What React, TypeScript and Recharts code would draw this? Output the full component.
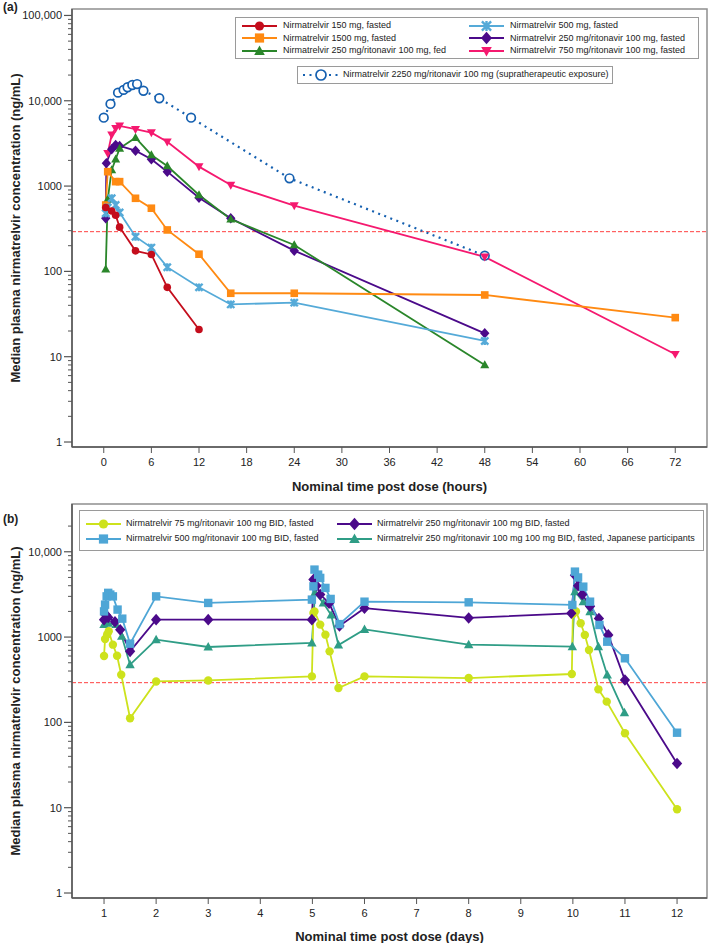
import React from "react";
import { LineChart, Line, XAxis, YAxis, ReferenceLine, ReferenceArea } from "recharts";

// ---------- panel (a): single dose, time in hours, conc in ng/mL ----------
const hA150 = [0.25, 1, 1.5, 2, 4, 6, 8, 12];
const cA150 = [560, 510, 455, 330, 174, 158, 65, 20.8];

const hA500 = [0.25, 0.5, 1, 1.5, 2, 4, 6, 8, 12, 16, 24, 48];
const cA500 = [480, 560, 720, 600, 490, 255, 190, 112, 65, 41, 43, 15.3];

const hA1500 = [0.25, 0.5, 1.5, 2, 4, 6, 8, 12, 16, 24, 48, 72];
const cA1500 = [600, 1475, 1127, 1127, 719, 550, 306, 159, 55.4, 55.4, 52.9, 28.7];

const hA250rFasted = [0.25, 0.33, 1, 1.5, 2, 4, 6, 8, 12, 16, 24, 48];
const cA250rFasted = [419, 1850, 2700, 3030, 2950, 2600, 2060, 1475, 731, 419, 175, 18.8];

const hA250rFed = [0.25, 0.5, 1, 1.5, 2, 4, 6, 8, 12, 16, 24, 48];
const cA250rFed = [106, 700, 1545, 2060, 2770, 3690, 2315, 1720, 787, 408, 204, 8.0];

const hA750r = [0.5, 1, 1.5, 2, 4, 6, 8, 12, 16, 24, 48, 72];
const cA750r = [2420, 4000, 4750, 5070, 4640, 4230, 3310, 1690, 1030, 589, 148, 10.7];

const hA2250r = [0, 0.85, 1.8, 2.5, 3, 3.6, 4.2, 5, 7, 11, 23.4, 48];
const cA2250r = [6330, 9170, 12440, 13400, 14400, 15300, 15700, 13100, 10700, 6330, 1234, 153];

const xTicksA = [0, 6, 12, 18, 24, 30, 36, 42, 48, 54, 60, 66, 72];
const yMajorA = [1, 10, 100, 1000, 10000, 100000];
const yLabelsA = ["1", "10", "100", "1000", "10,000", "100,000"];

// ---------- panel (b): multiple dose, time in days ----------
const d75 = [1.0, 1.02, 1.06, 1.09, 1.17, 1.25, 1.33, 1.5, 2, 3, 4.99, 5.02, 5.04, 5.15, 5.25, 5.33, 5.5, 6, 8, 9.98, 10.0, 10.06, 10.15, 10.23, 10.31, 10.49, 10.65, 11, 12];
const c75 = [600, 950, 1070, 1170, 815, 605, 362, 112, 302, 310, 346, 1920, 2000, 1400, 1067, 680, 253, 346, 331, 369, 1866, 2000, 1450, 1060, 706, 244, 175, 74.5, 9.6];

const d500 = [1.0, 1.02, 1.05, 1.08, 1.12, 1.17, 1.26, 1.35, 1.5, 2, 3, 4.99, 5.02, 5.04, 5.11, 5.15, 5.25, 5.35, 5.52, 6, 8, 9.99, 10.04, 10.1, 10.2, 10.33, 10.51, 10.66, 11, 12];
const c500 = [2000, 2400, 3000, 3300, 3150, 3000, 2100, 1645, 837, 3000, 2512, 2750, 3935, 6180, 5400, 4940, 3770, 2800, 1420, 2600, 2555, 2380, 5850, 5000, 3900, 2600, 1387, 883, 564, 75.7];

const d250 = [1.0, 1.04, 1.08, 1.21, 1.31, 1.5, 2, 3, 4.99, 5.02, 5.08, 5.15, 5.32, 5.52, 6, 8, 9.97, 10.04, 10.1, 10.18, 10.33, 10.5, 10.68, 11, 12];
const c250 = [1600, 1800, 1700, 1510, 1220, 680, 1600, 1600, 1600, 4720, 4000, 3150, 2500, 1350, 2180, 1675, 1900, 5300, 4000, 3150, 2300, 1650, 1060, 314, 33];

const d250jp = [1.0, 1.04, 1.08, 1.23, 1.34, 1.5, 2, 3, 4.99, 5.05, 5.21, 5.36, 5.5, 6, 8, 9.99, 10.04, 10.2, 10.33, 10.49, 10.66, 10.99];
const c250jp = [1400, 1500, 1450, 1400, 1020, 475, 933, 765, 853, 3300, 2500, 1810, 807, 1230, 815, 772, 3400, 2600, 1985, 772, 360, 130];

const xTicksB = [1, 2, 3, 4, 5, 6, 7, 8, 9, 10, 11, 12];
const yMajorB = [1, 10, 100, 1000, 10000];
const yLabelsB = ["1", "10", "100", "1000", "10,000"];

const target = 292; // red dashed reference concentration

const AXIS = "#555";
const FRAME = "#8f8f8f";
const FONT = '"Liberation Sans", Arial, sans-serif';

type Shape = "circle" | "open" | "square" | "triUp" | "triDown" | "diamond" | "cross";

const pts = (t: number[], v: number[]) => t.map((x, i) => ({ t: x, v: v[i] }));

const minorTicks = (majors: number[], top: number) => {
  const out: number[] = [];
  majors.forEach((d) => {
    for (let k = 1; k <= 9; k++) if (d * k <= top) out.push(d * k);
  });
  return out;
};

function Marker({ shape, cx, cy, color, s }: { shape: Shape; cx: number; cy: number; color: string; s: number }) {
  switch (shape) {
    case "circle":
      return <circle cx={cx} cy={cy} r={s} fill={color} />;
    case "open":
      return <circle cx={cx} cy={cy} r={s} fill="#fff" stroke={color} strokeWidth={1.7} />;
    case "square":
      return <rect x={cx - s} y={cy - s} width={2 * s} height={2 * s} fill={color} />;
    case "triUp":
      return <polygon points={`${cx},${cy - s * 1.2} ${cx + s * 1.15},${cy + s * 0.85} ${cx - s * 1.15},${cy + s * 0.85}`} fill={color} />;
    case "triDown":
      return <polygon points={`${cx},${cy + s * 1.2} ${cx + s * 1.15},${cy - s * 0.85} ${cx - s * 1.15},${cy - s * 0.85}`} fill={color} />;
    case "diamond":
      return <polygon points={`${cx},${cy - s * 1.35} ${cx + s * 1.2},${cy} ${cx},${cy + s * 1.35} ${cx - s * 1.2},${cy}`} fill={color} />;
    case "cross":
      return (
        <path
          d={`M${cx - s},${cy - s}L${cx + s},${cy + s}M${cx + s},${cy - s}L${cx - s},${cy + s}M${cx},${cy - s * 1.1}L${cx},${cy + s * 1.1}`}
          stroke={color}
          strokeWidth={2.4}
          fill="none"
        />
      );
  }
  return null;
}

const dotOf = (shape: Shape, color: string, s: number) => (p: any) =>
  p.cx == null || p.cy == null ? (
    <g key={`e${p.index}`} />
  ) : (
    <Marker key={`d${p.index}`} shape={shape} cx={p.cx} cy={p.cy} color={color} s={s} />
  );

type Series = { name: string; t: number[]; v: number[]; color: string; shape: Shape; s: number; dash?: string };

const seriesA: Series[] = [
  { name: "Nirmatrelvir 2250 mg/ritonavir 100 mg (supratherapeutic exposure)", t: hA2250r, v: cA2250r, color: "#1560b0", shape: "open", s: 4.3, dash: "2 4.5" },
  { name: "Nirmatrelvir 750 mg/ritonavir 100 mg, fasted", t: hA750r, v: cA750r, color: "#f5196f", shape: "triDown", s: 3.9 },
  { name: "Nirmatrelvir 250 mg/ritonavir 100 mg, fasted", t: hA250rFasted, v: cA250rFasted, color: "#4b0a8a", shape: "diamond", s: 3.9 },
  { name: "Nirmatrelvir 250 mg/ritonavir 100 mg, fed", t: hA250rFed, v: cA250rFed, color: "#2a862a", shape: "triUp", s: 3.9 },
  { name: "Nirmatrelvir 1500 mg, fasted", t: hA1500, v: cA1500, color: "#ff8a12", shape: "square", s: 3.8 },
  { name: "Nirmatrelvir 500 mg, fasted", t: hA500, v: cA500, color: "#55aad8", shape: "cross", s: 3.6 },
  { name: "Nirmatrelvir 150 mg, fasted", t: hA150, v: cA150, color: "#c40d1c", shape: "circle", s: 3.8 },
];

const seriesB: Series[] = [
  { name: "Nirmatrelvir 250 mg/ritonavir 100 mg 100 mg BID, fasted, Japanese participants", t: d250jp, v: c250jp, color: "#2f9d86", shape: "triUp", s: 4.1 },
  { name: "Nirmatrelvir 75 mg/ritonavir 100 mg BID, fasted", t: d75, v: c75, color: "#cde21c", shape: "circle", s: 4.2 },
  { name: "Nirmatrelvir 250 mg/ritonavir 100 mg BID, fasted", t: d250, v: c250, color: "#4b0a8a", shape: "diamond", s: 4.3 },
  { name: "Nirmatrelvir 500 mg/ritonavir 100 mg BID, fasted", t: d500, v: c500, color: "#4ea6d6", shape: "square", s: 4.2 },
];

const makeYTick = (majors: number[], labels: string[]) => (p: any) => {
  const { x, y, payload } = p;
  const idx = majors.findIndex((m) => Math.abs(m - payload.value) < m * 1e-6);
  if (idx < 0) return <line key={`m${payload.value}`} x1={x - 4} x2={x} y1={y} y2={y} stroke={AXIS} strokeWidth={1} />;
  return (
    <g key={`M${payload.value}`}>
      <line x1={x - 8} x2={x} y1={y} y2={y} stroke={AXIS} strokeWidth={1.2} />
      <text x={x - 10} y={y} dy="0.35em" textAnchor="end" fontSize={11} fill="#222" fontFamily={FONT}>
        {labels[idx]}
      </text>
    </g>
  );
};

function LegendItem({ s, x, y, iconW, textX, fontSize }: { s: Series; x: number; y: number; iconW: number; textX: number; fontSize: number }) {
  return (
    <>
      <svg style={{ position: "absolute", left: x, top: y - 7 }} width={iconW} height={14}>
        <line x1={0} x2={iconW} y1={7} y2={7} stroke={s.color} strokeWidth={s.dash ? 2.2 : 2} strokeDasharray={s.dash} />
        <Marker shape={s.shape} cx={iconW / 2} cy={7} color={s.color} s={s.shape === "open" ? 5 : 4.6} />
      </svg>
      <span
        style={{
          position: "absolute",
          left: textX,
          top: y - fontSize * 0.62,
          fontSize,
          lineHeight: `${fontSize * 1.2}px`,
          whiteSpace: "nowrap",
          color: "#222",
          fontFamily: FONT,
        }}
      >
        {s.name}
      </span>
    </>
  );
}

const box = (left: number, top: number, width: number, height: number): React.CSSProperties => ({
  position: "absolute",
  left,
  top,
  width,
  height,
  border: "1.5px solid #9a9a9a",
  boxSizing: "border-box",
  background: "#fff",
});

const yTitle = "Median plasma nirmatrelvir concentration (ng/mL)";

export default function App() {
  const byName = (list: Series[], n: string) => list.find((s) => s.name.startsWith(n))!;
  const ticksA = minorTicks(yMajorA, 100000);
  const ticksB = minorTicks(yMajorB, 20000);

  return (
    <div style={{ position: "absolute", left: 0, top: 0, width: 709, height: 943, background: "#fff", fontFamily: FONT }}>
      {/* ---------------- panel (a) ---------------- */}
      <div style={{ position: "absolute", left: 0, top: 0 }}>
        <LineChart width={709} height={500} margin={{ top: 9, right: 2, left: 0, bottom: 0 }}>
          <XAxis
            type="number"
            dataKey="t"
            domain={[-4, 76]}
            allowDataOverflow
            ticks={xTicksA}
            interval={0}
            height={53}
            tickSize={6}
            tickMargin={5}
            stroke={AXIS}
            axisLine={{ stroke: AXIS, strokeWidth: 1.5 }}
            tick={{ fontSize: 11, fill: "#222", fontFamily: FONT }}
            label={{ value: "Nominal time post dose (hours)", position: "insideBottom", offset: 9, style: { fontSize: 13, fontWeight: "bold", fill: "#222", fontFamily: FONT } }}
          />
          <YAxis
            type="number"
            dataKey="v"
            scale="log"
            domain={[0.874, 119000]}
            allowDataOverflow
            ticks={ticksA}
            interval={0}
            width={72}
            tickSize={0}
            tickMargin={0}
            tickLine={false}
            axisLine={{ stroke: AXIS, strokeWidth: 1.5 }}
            tick={makeYTick(yMajorA, yLabelsA)}
            label={{ value: yTitle, angle: -90, position: "insideLeft", offset: 15, style: { textAnchor: "middle", fontSize: 13, fontWeight: "bold", fill: "#222", fontFamily: FONT } }}
          />
          <ReferenceArea x1={-4} x2={76} y1={0.874} y2={119000} fill="none" stroke={FRAME} strokeWidth={1.5} ifOverflow="visible" />
          <ReferenceLine y={target} stroke="#ff4040" strokeDasharray="4 2" strokeWidth={1} />
          {seriesA.map((s) => (
            <Line
              key={s.name}
              data={pts(s.t, s.v)}
              dataKey="v"
              type="linear"
              stroke={s.color}
              strokeWidth={s.dash ? 2.2 : 1.8}
              strokeDasharray={s.dash}
              dot={dotOf(s.shape, s.color, s.s)}
              activeDot={false}
              isAnimationActive={false}
              legendType="none"
            />
          ))}
        </LineChart>
      </div>
      <div style={{ position: "absolute", left: 3, top: 0, fontSize: 12, fontWeight: "bold", color: "#222" }}>(a)</div>

      <div style={box(235, 17, 464, 42)} />
      {[
        ["Nirmatrelvir 150 mg, fasted", 242, 25.7],
        ["Nirmatrelvir 1500 mg, fasted", 242, 38.3],
        ["Nirmatrelvir 250 mg/ritonavir 100 mg, fed", 242, 50.7],
        ["Nirmatrelvir 500 mg, fasted", 469, 25.7],
        ["Nirmatrelvir 250 mg/ritonavir 100 mg, fasted", 469, 38.3],
        ["Nirmatrelvir 750 mg/ritonavir 100 mg, fasted", 469, 50.7],
      ].map(([n, x, y]) => (
        <LegendItem key={n as string} s={byName(seriesA, n as string)} x={x as number} y={y as number} iconW={35} textX={(x as number) + 41} fontSize={9} />
      ))}
      <div style={box(297, 66, 316, 18)} />
      <LegendItem s={seriesA[0]} x={303} y={74.8} iconW={36} textX={343} fontSize={9} />

      {/* ---------------- panel (b) ---------------- */}
      <div style={{ position: "absolute", left: 0, top: 490 }}>
        <LineChart width={709} height={453} margin={{ top: 14, right: 2, left: 0, bottom: 0 }}>
          <XAxis
            type="number"
            dataKey="t"
            domain={[0.385, 12.575]}
            allowDataOverflow
            ticks={xTicksB}
            interval={0}
            height={45}
            tickSize={6}
            tickMargin={5}
            stroke={AXIS}
            axisLine={{ stroke: AXIS, strokeWidth: 1.5 }}
            tick={{ fontSize: 11, fill: "#222", fontFamily: FONT }}
            label={{ value: "Nominal time post dose (days)", position: "insideBottom", offset: 2, style: { fontSize: 13, fontWeight: "bold", fill: "#222", fontFamily: FONT } }}
          />
          <YAxis
            type="number"
            dataKey="v"
            scale="log"
            domain={[0.874, 36300]}
            allowDataOverflow
            ticks={ticksB}
            interval={0}
            width={72}
            tickSize={0}
            tickMargin={0}
            tickLine={false}
            axisLine={{ stroke: AXIS, strokeWidth: 1.5 }}
            tick={makeYTick(yMajorB, yLabelsB)}
            label={{ value: yTitle, angle: -90, position: "insideLeft", offset: 15, style: { textAnchor: "middle", fontSize: 13, fontWeight: "bold", fill: "#222", fontFamily: FONT } }}
          />
          <ReferenceArea x1={0.385} x2={12.575} y1={0.874} y2={36300} fill="none" stroke={FRAME} strokeWidth={1.5} ifOverflow="visible" />
          <ReferenceLine y={target} stroke="#ff4040" strokeDasharray="4 2" strokeWidth={1} />
          {seriesB.map((s) => (
            <Line
              key={s.name}
              data={pts(s.t, s.v)}
              dataKey="v"
              type="linear"
              stroke={s.color}
              strokeWidth={1.8}
              dot={dotOf(s.shape, s.color, s.s)}
              activeDot={false}
              isAnimationActive={false}
              legendType="none"
            />
          ))}
        </LineChart>
      </div>
      <div style={{ position: "absolute", left: 3, top: 512, fontSize: 12, fontWeight: "bold", color: "#222" }}>(b)</div>

      <div style={box(79, 510, 625, 41)} />
      {[
        ["Nirmatrelvir 75 mg/ritonavir", 86, 524],
        ["Nirmatrelvir 500 mg/ritonavir", 86, 539],
        ["Nirmatrelvir 250 mg/ritonavir 100 mg BID", 337, 524],
        ["Nirmatrelvir 250 mg/ritonavir 100 mg 100 mg", 337, 539],
      ].map(([n, x, y]) => (
        <LegendItem key={n as string} s={byName(seriesB, n as string)} x={x as number} y={y as number} iconW={35} textX={(x as number) + 40} fontSize={9} />
      ))}
    </div>
  );
}
